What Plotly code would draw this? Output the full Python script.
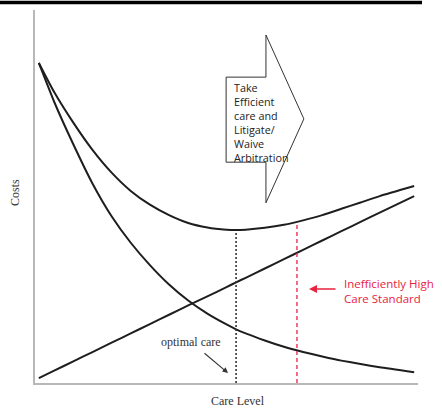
import numpy as np
import plotly.graph_objects as go

# ---- data (care level units on x, cost units on y) ----
care_level = [0.1, 0.5, 1.0, 1.5, 2.0, 2.5, 3.0, 3.5, 4.0, 4.5, 5.0, 5.25,
              5.5, 6.0, 6.5, 7.0, 7.5, 8.0, 8.5, 9.0, 9.9]
total_cost = [8.58, 7.80, 6.98, 6.25, 5.64, 5.15, 4.78, 4.50, 4.29, 4.17, 4.11, 4.10,
              4.11, 4.16, 4.24, 4.36, 4.50, 4.67, 4.84, 5.01, 5.28]
accident_cost = [8.58, 7.54, 6.40, 5.35, 4.47, 3.76, 3.16, 2.64, 2.21, 1.86, 1.57, 1.44,
                 1.33, 1.14, 0.97, 0.83, 0.71, 0.60, 0.51, 0.42, 0.29]
care_cost = [0.13, 0.33, 0.58, 0.83, 1.08, 1.33, 1.58, 1.83, 2.08, 2.32, 2.57, 2.70,
             2.82, 3.07, 3.32, 3.57, 3.82, 4.07, 4.32, 4.57, 5.01]

optimal_care = 5.25
high_standard = 6.84

box_lines = ["Take", "Efficient", "care and", "Litigate/", "Waive", "Arbitration"]
red_lines = ["Inefficiently High", "Care Standard"]

RED = "#e8223f"
INK = "#1e1e1e"

fig = go.Figure()
for ys in (total_cost, accident_cost, care_cost):
    fig.add_trace(go.Scatter(x=care_level, y=ys, mode="lines",
                             line=dict(color=INK, width=2, shape="spline", smoothing=0.5),
                             hoverinfo="skip", showlegend=False))

top_opt = float(np.interp(optimal_care, care_level, total_cost)) - 0.08
top_high = float(np.interp(high_standard, care_level, total_cost))
fig.add_shape(type="line", x0=optimal_care, x1=optimal_care, y0=0, y1=top_opt,
              line=dict(color="#333333", width=1.6, dash="2px,2px"))
fig.add_shape(type="line", x0=high_standard, x1=high_standard, y0=0, y1=top_high,
              line=dict(color=RED, width=1.3, dash="4px,3px"))

# arrow-shaped callout box
fig.add_shape(type="path",
              path="M 4.99 8.20 L 6.03 8.20 L 6.03 9.33 L 7.02 7.08 L 6.03 4.83 L 6.03 5.92 L 4.99 5.92 Z",
              line=dict(color="#333333", width=1), fillcolor="rgba(255,255,255,0)")

fig.add_annotation(x=5.15, y=(383 - 122) / 37.3, text="<br>".join(box_lines), showarrow=False,
                   xanchor="left", yanchor="middle", align="left",
                   font=dict(family="Open Sans", size=10.8, color="#222222"))

# red label
fig.add_annotation(x=(342 - 35) / 38.3, y=(383 - 291) / 37.3, text="<br>".join(red_lines),
                   showarrow=False, xanchor="left", yanchor="middle", align="left",
                   font=dict(family="Open Sans", size=11.5, color=RED))
fig.add_annotation(x=(309 - 35) / 38.3, y=(383 - 289) / 37.3, ax=(337 - 35) / 38.3,
                   ay=(383 - 289) / 37.3, axref="x", ayref="y", text="", showarrow=True,
                   arrowhead=2, arrowsize=1, arrowwidth=1.6, arrowcolor=RED)

# optimal care label
fig.add_annotation(x=(191 - 35) / 38.3, y=(383 - 342) / 37.3, text="optimal care", showarrow=False,
                   xanchor="center", yanchor="middle",
                   font=dict(family="Liberation Serif", size=12, color="#333333"))
fig.add_annotation(x=(228 - 35) / 38.3, y=(383 - 373) / 37.3, ax=(203 - 35) / 38.3,
                   ay=(383 - 352) / 37.3, axref="x", ayref="y", text="", showarrow=True,
                   arrowhead=2, arrowsize=1, arrowwidth=1.1, arrowcolor="#333333")

# axis titles
fig.add_annotation(xref="paper", yref="paper", x=(15 - 35) / 383, y=(383 - 193) / 373,
                   text="Costs", textangle=-90, showarrow=False, xanchor="center", yanchor="middle",
                   font=dict(family="Liberation Serif", size=12, color="#333333"))
fig.add_annotation(xref="paper", yref="paper", x=(238 - 35) / 383, y=(383 - 401) / 373,
                   text="Care Level", showarrow=False, xanchor="center", yanchor="middle",
                   font=dict(family="Liberation Serif", size=12, color="#333333"))

# top rule
fig.add_shape(type="line", xref="paper", yref="paper", x0=-35 / 383, x1=(422 - 35) / 383,
              y0=(383 - 2.5) / 373, y1=(383 - 2.5) / 373, line=dict(color="black", width=3.5))

axis_common = dict(showgrid=False, zeroline=False, showticklabels=False, ticks="",
                   showline=True, linecolor="#b8b8b8", linewidth=1.5, fixedrange=True)
fig.update_xaxes(range=[0, 10], **axis_common)
fig.update_yaxes(range=[0, 10], **axis_common)
fig.update_layout(width=442, height=408, margin=dict(l=35, r=24, t=10, b=25),
                  plot_bgcolor="white", paper_bgcolor="white", showlegend=False)

fig.write_html("out.html", config={"displayModeBar": False},
               post_script="document.body.style.margin='0';document.body.style.overflow='hidden';")
